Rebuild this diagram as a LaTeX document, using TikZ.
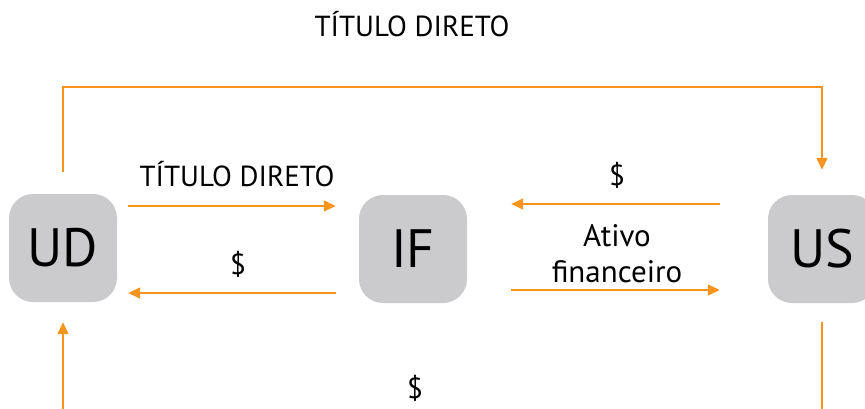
\documentclass[tikz,border=0pt]{standalone}
\usepackage{fontspec}
\setmainfont{PT Sans}
\usepackage{tikz}
\usetikzlibrary{arrows.meta}
\definecolor{laranja}{RGB}{247,148,29}
\definecolor{cinza}{RGB}{203,203,205}
\tikzset{>={Triangle[length=12pt,width=11pt]}}
\tikzset{agente/.style={fill=cinza,rounded corners=24pt,minimum size=108pt,inner sep=0pt,font=\fontsize{54}{60}\selectfont}}
\tikzset{fluxo/.style={->,color=laranja,line width=1.5pt}}
\tikzset{rotulo/.style={anchor=base,font=\fontsize{29}{36}\selectfont,inner sep=0pt}}

\begin{document}
\begin{tikzpicture}[line join=miter,x=1pt,y=-1pt]
	\useasboundingbox (0,0) rectangle (865,408);
	\clip (0,0) rectangle (865,408);
	\node[agente] (UD) at (63,248) {UD};
	\node[agente] (IF) at (413,249) {IF};
	\node[agente] (US) at (822,249) {US};
	\coordinate (topo) at (0,87);
	\coordinate (base) at (0,440);
	% financiamento direto
	\draw[fluxo,shorten <=22pt,shorten >=25pt] (UD.north) |- (topo -| US.north) -- (US.north);
	\draw[fluxo,shorten <=19pt,shorten >=20pt] (US.south) -- (base -| US.south) -| (UD.south);
	\node[rotulo] (t1) at (412,36) {TÍTULO DIRETO};
	\node[rotulo] (d1) at (415,398) {\$};
	% financiamento indireto
	\draw[fluxo,shorten <=11pt,shorten >=23pt] ([yshift=42pt]UD.east) -- ([yshift=42pt]UD.east -| IF.west);
	\draw[fluxo,shorten <=23pt,shorten >=11pt] ([yshift=-45pt]UD.east -| IF.west) -- ([yshift=-45pt]UD.east);
	\draw[fluxo,shorten <=48pt,shorten >=44pt] ([yshift=45pt]US.west) -- ([yshift=45pt]US.west -| IF.east);
	\draw[fluxo,shorten <=44pt,shorten >=48pt] ([yshift=-41pt]US.west -| IF.east) -- ([yshift=-41pt]US.west);
	\node[rotulo] (t2) at (237,186) {TÍTULO DIRETO};
	\node[rotulo] (d2) at (238,274) {\$};
	\node[rotulo] (d3) at (617,185) {\$};
	\node[rotulo,align=center,anchor=north,font=\fontsize{31}{36}\selectfont] (a1) at (617,224) {Ativo\\financeiro};
\end{tikzpicture}
\end{document}
